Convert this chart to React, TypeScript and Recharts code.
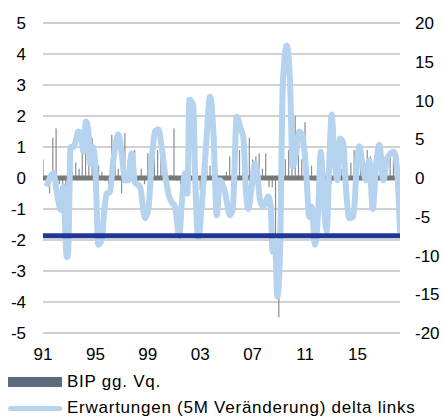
import { ComposedChart, Bar, Line, XAxis, YAxis, CartesianGrid, ReferenceLine, Legend } from 'recharts';

// GDP q/q, quarterly from 1991Q1 to 2018Q1 (left axis, %)
const firstYear = 1991;
const gdpQoQ = [
  0.6, 0.0, -0.5, 1.3,
  1.6, -0.2, -0.3, -0.4,
  -0.6, 0.2, 0.5, 0.3,
  1.0, 0.8, 0.6, 1.3,
  0.3, 0.4, 0.2, -0.1,
  -0.2, 1.4, 0.6, 0.3,
  -0.5, 1.45, 0.6, 0.4,
  0.9, -0.1, 0.3, -0.2,
  0.8, 0.3, 0.9, 0.9,
  0.9, 0.8, 0.0, 0.1,
  1.6, -0.1, -0.2, -0.3,
  0.1, 0.3, 0.2, -0.1,
  -0.4, -0.2, 0.4, 0.4,
  0.3, 0.3, 0.0, 0.0,
  0.2, 0.7, 0.6, 0.2,
  0.9, 1.0, 0.8, 1.3,
  0.6, 0.7, 0.8, 0.3,
  0.8, -0.3, -0.3, -1.9,
  -4.5, 0.1, 0.6, 0.9,
  0.7, 2.0, 0.8, 0.6,
  1.8, 0.3, 0.4, -0.1,
  0.3, 0.0, 0.2, -0.4,
  -0.2, 0.7, 0.4, 0.3,
  0.8, -0.1, 0.5, 0.9,
  0.3, 0.5, 0.3, 0.9,
  0.7, 0.4, 0.2, 0.75,
  0.7, 0.6, 0.7, 0.6,
  0.4,
];

// expectations (5M change), right axis
const expectationDates = [
  1991.28, 1991.79, 1992.15, 1992.35, 1992.55, 1992.81, 1992.91, 1993.11, 1993.31, 1993.52,
  1993.69, 1993.88, 1994.08, 1994.28, 1994.46, 1994.59, 1994.79, 1994.97, 1995.22, 1995.48,
  1995.66, 1995.86, 1996.11, 1996.37, 1996.75, 1997.01, 1997.26, 1997.51, 1997.77, 1998.02,
  1998.40, 1998.79, 1999.04, 1999.30, 1999.55, 1999.80, 2000.06, 2000.31, 2000.56, 2000.82,
  2001.08, 2001.40, 2001.59, 2001.84, 2002.02, 2002.17, 2002.47, 2002.60, 2002.85, 2003.11,
  2003.44, 2003.75, 2004.00, 2004.26, 2004.51, 2004.89, 2005.27, 2005.48, 2005.79, 2006.09,
  2006.29, 2006.50, 2006.67, 2006.93, 2007.18, 2007.36, 2007.56, 2007.82, 2008.20, 2008.38,
  2008.53, 2008.71, 2008.89, 2009.09, 2009.30, 2009.60, 2009.85, 2010.06, 2010.31, 2010.56,
  2010.82, 2011.08, 2011.33, 2011.51, 2011.76, 2012.02, 2012.20, 2012.45, 2012.66, 2012.85,
  2013.04, 2013.21, 2013.47, 2013.67, 2013.92, 2014.13, 2014.38, 2014.69, 2014.95, 2015.15,
  2015.40, 2015.66, 2015.91, 2016.17, 2016.42, 2016.67, 2016.98, 2017.24, 2017.54, 2017.79,
  2018.05, 2018.25,
];
const expectationValues = [
  -1.1, 0.6, -2.8, -4.1, -1.1, -10.2, -10.0, 4.0, 4.0, 4.9,
  6.0, 5.8, 3.4, 7.3, 6.0, 1.9, 4.0, 2.3, -8.6, -8.0,
  -4.5, -2.0, -1.8, 2.3, 5.6, 3.2, -0.3, -0.3, 3.2, -0.6,
  -1.1, -5.2, -4.1, 2.3, 6.0, 6.3, 4.0, 0.6, -2.0, -3.1,
  -3.7, -7.5, -3.3, 0.6, -2.0, 10.1, 9.4, 1.0, -7.7, -3.7,
  4.0, 10.5, 6.2, -4.8, -0.3, -1.8, -4.8, -4.1, 7.9, 6.4,
  5.3, -2.0, -4.0, -1.1, 1.9, 0.6, -2.8, -3.7, -2.4, -3.7,
  -9.5, -8.4, -15.3, -9.7, 11.8, 17.1, 12.6, 1.5, 3.2, 6.0,
  5.3, 1.0, -5.0, -3.7, -8.6, -3.7, 3.4, -3.7, -6.8, 1.9,
  8.2, 3.6, -0.3, 5.1, 4.5, -1.5, -5.2, -5.0, 1.5, 4.1,
  1.5, -0.3, 2.3, -4.0, 1.5, 4.3, -0.3, 2.3, 3.2, 3.4,
  0.6, -7.1,
];

const xTickYears = [1991, 1995, 1999, 2003, 2007, 2011, 2015];
const xTickLabels = ['91', '95', '99', '03', '07', '11', '15'];
const leftTicks = [-5, -4, -3, -2, -1, 0, 1, 2, 3, 4, 5];
const rightTicks = [-20, -15, -10, -5, 0, 5, 10, 15, 20];
const benchmarkLevel = -1.86;

const barData = gdpQoQ.map((v, i) => ({ t: firstYear + i / 4, gdp: v }));
const lineData = expectationDates.map((t, i) => ({ t, exp: expectationValues[i] }));

const FONT = 'Arial, "Liberation Sans", sans-serif';
const LEGEND_BAR = '#5b6b80';
const BAR_COLOR = '#868c93';
const LINE_COLOR = '#b5d2ef';

// thin needle-like bar centred on the slot Recharts computes
function ThinBar(props: any) {
  const { x, y, width, height } = props;
  if (x == null || y == null) return null;
  const top = Math.min(y, y + height);
  const h = Math.abs(height);
  const cx = x + width / 2;
  return <rect x={cx - 0.6} y={top} width={1.2} height={h} fill={BAR_COLOR} />;
}

function ChartLegend() {
  const row = { display: 'flex', alignItems: 'center', paddingLeft: 8, fontSize: 17, letterSpacing: 0.75, color: '#000' } as const;
  return (
    <div style={{ height: 52, width: 444, fontFamily: FONT }}>
      <div style={{ ...row, height: 28 }}>
        <div style={{ width: 54, height: 10, background: LEGEND_BAR, marginRight: 5 }} />
        <span>BIP gg. Vq.</span>
      </div>
      <div style={{ ...row, height: 24 }}>
        <div style={{ width: 54, height: 5, borderRadius: 3, background: LINE_COLOR, marginRight: 5 }} />
        <span>Erwartungen (5M Veränderung) delta links</span>
      </div>
    </div>
  );
}

export default function App() {
  const tick = { fill: '#000', fontSize: 17, fontFamily: FONT };
  return (
    <div style={{ position: 'absolute', left: 0, top: 0, width: 444, height: 420, background: '#fff' }}>
      <ComposedChart width={444} height={420} data={barData} margin={{ top: 23, right: 0, left: 0, bottom: 0 }}>
        <CartesianGrid horizontal vertical={false} stroke="#a3a3a3" yAxisId="left" />
        <XAxis
          dataKey="t"
          type="number"
          domain={[1991, 2018.25]}
          allowDataOverflow
          ticks={xTickYears}
          tickFormatter={(v: number) => xTickLabels[xTickYears.indexOf(v)] ?? ''}
          axisLine={false}
          tickLine={false}
          tickSize={0}
          tickMargin={15}
          height={35}
          tick={tick}
        />
        <YAxis
          yAxisId="left"
          domain={[-5, 5]}
          ticks={leftTicks}
          axisLine={false}
          tickLine={false}
          tickSize={0}
          tickMargin={17}
          width={43}
          tick={tick}
        />
        <YAxis
          yAxisId="right"
          orientation="right"
          domain={[-20, 20]}
          ticks={rightTicks}
          axisLine={false}
          tickLine={false}
          tickSize={0}
          tickMargin={15}
          width={44}
          tick={tick}
        />
        <ReferenceLine yAxisId="left" y={5} stroke="#cfcfcf" strokeWidth={2} />
        <ReferenceLine yAxisId="left" y={-5} stroke="#cfcfcf" strokeWidth={2} />
        <Bar
          yAxisId="left"
          dataKey="gdp"
          name="BIP gg. Vq."
          fill={BAR_COLOR}
          barSize={2}
          shape={ThinBar}
          isAnimationActive={false}
        />
        <ReferenceLine yAxisId="left" y={0} stroke="#787878" strokeWidth={5} />
        <Line
          yAxisId="right"
          data={lineData}
          dataKey="exp"
          name="Erwartungen (5M Veränderung) delta links"
          type="monotone"
          stroke={LINE_COLOR}
          strokeWidth={6}
          dot={false}
          activeDot={false}
          isAnimationActive={false}
        />
        <ReferenceLine yAxisId="left" y={benchmarkLevel} stroke="#1f3795" strokeWidth={5} />
        <Legend verticalAlign="bottom" align="left" wrapperStyle={{ left: 0, width: 444 }} content={() => <ChartLegend />} />
      </ComposedChart>
    </div>
  );
}
